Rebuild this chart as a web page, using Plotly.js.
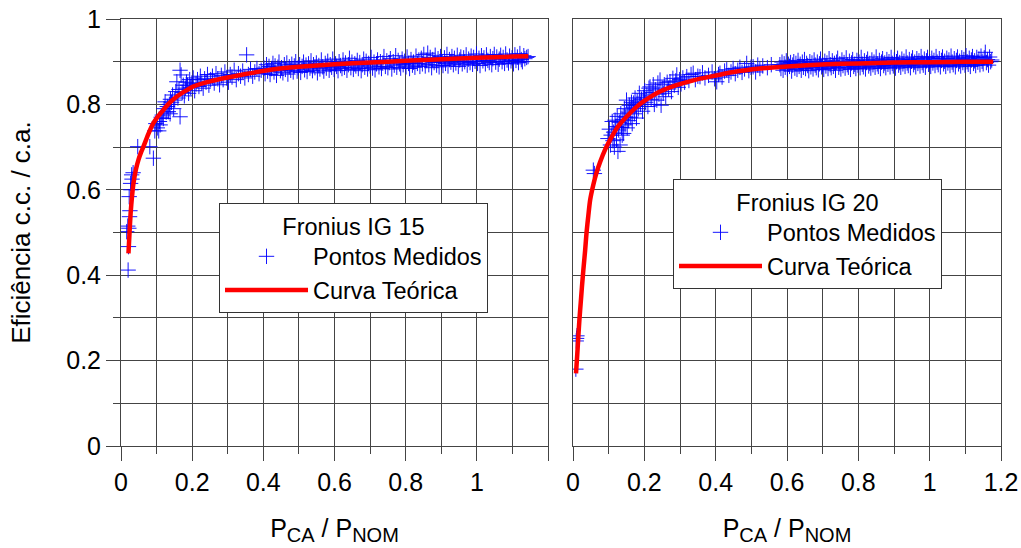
<!DOCTYPE html>
<html><head><meta charset="utf-8">
<script src="https://cdn.plot.ly/plotly-3.0.1.min.js"></script>
<style>html,body{margin:0;padding:0;background:#fff}#chart{width:1021px;height:548px}</style>
</head><body><div id="chart"></div>
<script>
// ---------- DATA ----------
const ig15_low = [[0.020,0.412],[0.021,0.467],[0.016,0.502],[0.019,0.515],[0.022,0.510],[0.024,0.537],[0.025,0.551],[0.023,0.584],[0.027,0.615],[0.028,0.600],[0.030,0.635],[0.031,0.625],[0.034,0.640],[0.047,0.701],[0.081,0.701],[0.091,0.674],[0.095,0.738],[0.098,0.755],[0.102,0.745],[0.106,0.738],[0.108,0.760],[0.110,0.752],[0.113,0.770],[0.116,0.775],[0.119,0.767],[0.121,0.790],[0.124,0.806],[0.127,0.782],[0.130,0.795],[0.133,0.783],[0.136,0.800],[0.138,0.778],[0.139,0.812],[0.142,0.805],[0.145,0.822],[0.148,0.790],[0.151,0.810],[0.154,0.830],[0.157,0.853],[0.160,0.815],[0.163,0.835],[0.166,0.771],[0.166,0.880],[0.169,0.869],[0.172,0.828],[0.175,0.845],[0.178,0.820],[0.181,0.838],[0.184,0.852],[0.187,0.845],[0.190,0.826],[0.193,0.858],[0.196,0.840],[0.199,0.850],[0.203,0.862],[0.207,0.832],[0.211,0.848],[0.215,0.858],[0.219,0.842],[0.223,0.866],[0.227,0.850],[0.231,0.838],[0.235,0.860],[0.239,0.852],[0.243,0.870],[0.247,0.845],[0.252,0.858],[0.257,0.866],[0.262,0.850],[0.267,0.872],[0.272,0.860],[0.277,0.846],[0.282,0.868],[0.287,0.858],[0.292,0.876],[0.297,0.862],[0.302,0.852],[0.307,0.870],[0.312,0.864],[0.318,0.880],[0.324,0.858],[0.330,0.872],[0.336,0.866],[0.342,0.878],[0.348,0.862],[0.353,0.916],[0.358,0.870],[0.364,0.882],[0.370,0.866],[0.376,0.876],[0.382,0.884],[0.388,0.872],[0.394,0.880]];
const ig15_high = [[0.402,0.885],[0.405,0.872],[0.409,0.893],[0.412,0.878],[0.416,0.889],[0.419,0.870],[0.423,0.884],[0.427,0.896],[0.430,0.876],[0.433,0.890],[0.437,0.868],[0.441,0.887],[0.444,0.899],[0.448,0.879],[0.451,0.886],[0.455,0.874],[0.459,0.893],[0.462,0.882],[0.466,0.897],[0.469,0.871],[0.473,0.888],[0.477,0.880],[0.480,0.894],[0.484,0.876],[0.487,0.890],[0.491,0.900],[0.495,0.878],[0.498,0.886],[0.502,0.893],[0.505,0.875],[0.509,0.889],[0.513,0.899],[0.516,0.881],[0.520,0.892],[0.523,0.877],[0.527,0.895],[0.531,0.885],[0.534,0.902],[0.538,0.879],[0.541,0.893],[0.545,0.886],[0.549,0.897],[0.552,0.874],[0.556,0.891],[0.559,0.883],[0.563,0.904],[0.567,0.888],[0.570,0.878],[0.574,0.896],[0.577,0.885],[0.581,0.901],[0.585,0.880],[0.588,0.893],[0.592,0.887],[0.595,0.906],[0.599,0.882],[0.603,0.895],[0.606,0.889],[0.610,0.879],[0.613,0.900],[0.617,0.891],[0.621,0.884],[0.624,0.904],[0.628,0.887],[0.631,0.897],[0.635,0.880],[0.639,0.893],[0.642,0.908],[0.646,0.886],[0.649,0.899],[0.653,0.882],[0.657,0.895],[0.660,0.890],[0.664,0.903],[0.667,0.884],[0.671,0.898],[0.675,0.879],[0.678,0.893],[0.682,0.906],[0.685,0.887],[0.689,0.901],[0.693,0.883],[0.696,0.896],[0.700,0.890],[0.703,0.910],[0.707,0.885],[0.711,0.899],[0.714,0.881],[0.718,0.895],[0.721,0.904],[0.725,0.888],[0.729,0.900],[0.732,0.884],[0.736,0.897],[0.739,0.912],[0.743,0.889],[0.747,0.902],[0.750,0.886],[0.754,0.898],[0.757,0.907],[0.761,0.883],[0.765,0.900],[0.768,0.892],[0.772,0.914],[0.775,0.887],[0.779,0.903],[0.783,0.895],[0.786,0.885],[0.790,0.906],[0.793,0.893],[0.797,0.901],[0.801,0.888],[0.804,0.911],[0.808,0.896],[0.811,0.884],[0.815,0.905],[0.819,0.892],[0.822,0.899],[0.826,0.887],[0.829,0.913],[0.833,0.896],[0.837,0.904],[0.840,0.889],[0.844,0.908],[0.847,0.895],[0.851,0.917],[0.855,0.890],[0.858,0.903],[0.862,0.920],[0.865,0.893],[0.869,0.910],[0.873,0.886],[0.876,0.905],[0.880,0.898],[0.883,0.915],[0.887,0.892],[0.891,0.907],[0.894,0.888],[0.898,0.912],[0.901,0.899],[0.905,0.891],[0.909,0.909],[0.912,0.896],[0.916,0.917],[0.919,0.890],[0.923,0.905],[0.927,0.899],[0.930,0.912],[0.934,0.893],[0.937,0.908],[0.941,0.897],[0.945,0.915],[0.948,0.889],[0.952,0.904],[0.955,0.911],[0.959,0.895],[0.963,0.909],[0.966,0.900],[0.970,0.916],[0.973,0.892],[0.977,0.906],[0.981,0.898],[0.984,0.913],[0.988,0.894],[0.991,0.910],[0.995,0.901],[0.999,0.918],[1.002,0.896],[1.006,0.908],[1.009,0.891],[1.013,0.914],[1.017,0.902],[1.020,0.909],[1.024,0.895],[1.027,0.916],[1.031,0.903],[1.035,0.898],[1.038,0.912],[1.042,0.893],[1.045,0.907],[1.049,0.917],[1.053,0.899],[1.056,0.911],[1.060,0.894],[1.063,0.906],[1.067,0.915],[1.071,0.900],[1.074,0.910],[1.078,0.896],[1.081,0.918],[1.085,0.904],[1.089,0.897],[1.092,0.913],[1.096,0.902],[1.099,0.909],[1.103,0.895],[1.107,0.916],[1.110,0.903],[1.114,0.911],[1.117,0.898],[1.121,0.919],[1.125,0.905],[1.128,0.900],[1.132,0.914],[1.135,0.907],[1.140,0.910],[1.144,0.912]];
const ig15_curve_x = [0.021,0.024,0.027,0.031,0.035,0.042,0.049,0.056,0.063,0.077,0.091,0.105,0.119,0.137,0.156,0.180,0.203,0.25,0.30,0.35,0.42,0.5,0.6,0.7,0.8,0.9,1.0,1.1,1.145];
const ig15_curve_y = [0.451,0.500,0.545,0.585,0.615,0.648,0.670,0.687,0.701,0.731,0.756,0.773,0.787,0.804,0.818,0.831,0.842,0.854,0.863,0.871,0.881,0.888,0.894,0.898,0.902,0.906,0.909,0.912,0.913];

const ig20_low = [[0.008,0.180],[0.009,0.246],[0.010,0.252],[0.011,0.258],[0.057,0.646],[0.060,0.638],[0.098,0.720],[0.102,0.742],[0.105,0.705],[0.107,0.728],[0.110,0.760],[0.112,0.715],[0.114,0.735],[0.116,0.700],[0.118,0.763],[0.120,0.748],[0.122,0.717],[0.124,0.772],[0.126,0.690],[0.128,0.740],[0.130,0.758],[0.132,0.705],[0.134,0.778],[0.136,0.746],[0.138,0.728],[0.140,0.765],[0.142,0.732],[0.144,0.790],[0.146,0.752],[0.148,0.770],[0.150,0.810],[0.152,0.745],[0.154,0.782],[0.156,0.762],[0.158,0.798],[0.160,0.787],[0.162,0.770],[0.164,0.805],[0.166,0.755],[0.168,0.792],[0.170,0.803],[0.172,0.778],[0.174,0.815],[0.176,0.797],[0.178,0.768],[0.180,0.808],[0.183,0.790],[0.186,0.826],[0.189,0.800],[0.192,0.812],[0.195,0.784],[0.198,0.817],[0.201,0.832],[0.204,0.805],[0.207,0.822],[0.210,0.795],[0.213,0.838],[0.216,0.841],[0.219,0.812],[0.222,0.828],[0.225,0.846],[0.228,0.800],[0.231,0.834],[0.235,0.810],[0.238,0.850],[0.241,0.824],[0.244,0.857],[0.247,0.798],[0.250,0.838],[0.253,0.826],[0.256,0.846],[0.260,0.818],[0.264,0.852],[0.268,0.836],[0.272,0.853],[0.276,0.830],[0.280,0.861],[0.284,0.845],[0.288,0.855],[0.291,0.869],[0.295,0.840],[0.299,0.858],[0.303,0.848],[0.308,0.862],[0.313,0.852],[0.319,0.865],[0.325,0.856],[0.331,0.870],[0.337,0.873],[0.343,0.858],[0.350,0.866],[0.356,0.865],[0.363,0.874],[0.370,0.862],[0.380,0.868],[0.390,0.876],[0.397,0.860],[0.403,0.853],[0.408,0.870],[0.412,0.873],[0.418,0.864],[0.425,0.878],[0.431,0.881],[0.437,0.868],[0.443,0.876],[0.449,0.884],[0.455,0.872],[0.462,0.880],[0.468,0.887],[0.474,0.875],[0.481,0.883],[0.487,0.896],[0.493,0.879],[0.499,0.887],[0.505,0.888],[0.512,0.876],[0.518,0.892],[0.524,0.884],[0.532,0.890],[0.545,0.886],[0.556,0.893]];
const ig20_high = [[0.580,0.893],[0.583,0.884],[0.586,0.899],[0.589,0.880],[0.592,0.895],[0.595,0.887],[0.598,0.902],[0.601,0.883],[0.604,0.894],[0.607,0.889],[0.610,0.898],[0.613,0.878],[0.616,0.892],[0.619,0.900],[0.622,0.885],[0.625,0.896],[0.628,0.882],[0.631,0.903],[0.634,0.889],[0.637,0.894],[0.640,0.880],[0.643,0.899],[0.646,0.887],[0.649,0.905],[0.652,0.884],[0.655,0.896],[0.658,0.891],[0.661,0.879],[0.664,0.900],[0.667,0.888],[0.670,0.897],[0.673,0.883],[0.676,0.904],[0.679,0.892],[0.682,0.886],[0.685,0.899],[0.688,0.881],[0.691,0.895],[0.694,0.906],[0.697,0.888],[0.700,0.893],[0.703,0.882],[0.706,0.901],[0.709,0.890],[0.712,0.897],[0.715,0.884],[0.718,0.907],[0.721,0.893],[0.724,0.886],[0.727,0.902],[0.730,0.889],[0.733,0.896],[0.736,0.880],[0.739,0.899],[0.742,0.908],[0.745,0.887],[0.748,0.895],[0.751,0.883],[0.754,0.904],[0.757,0.891],[0.760,0.898],[0.763,0.885],[0.766,0.909],[0.769,0.893],[0.772,0.887],[0.775,0.901],[0.778,0.882],[0.781,0.897],[0.784,0.905],[0.787,0.889],[0.790,0.894],[0.793,0.884],[0.796,0.903],[0.799,0.892],[0.802,0.899],[0.805,0.886],[0.808,0.910],[0.811,0.894],[0.814,0.888],[0.817,0.902],[0.820,0.883],[0.823,0.898],[0.826,0.906],[0.829,0.890],[0.832,0.896],[0.835,0.885],[0.838,0.904],[0.841,0.893],[0.844,0.899],[0.847,0.887],[0.850,0.911],[0.853,0.895],[0.856,0.889],[0.859,0.903],[0.862,0.884],[0.865,0.899],[0.868,0.907],[0.871,0.891],[0.874,0.897],[0.877,0.886],[0.880,0.905],[0.883,0.894],[0.886,0.900],[0.889,0.888],[0.892,0.910],[0.895,0.896],[0.898,0.890],[0.901,0.904],[0.904,0.885],[0.907,0.900],[0.910,0.908],[0.913,0.892],[0.916,0.898],[0.919,0.887],[0.922,0.906],[0.925,0.895],[0.928,0.901],[0.931,0.889],[0.934,0.911],[0.937,0.897],[0.940,0.891],[0.943,0.905],[0.946,0.886],[0.949,0.901],[0.952,0.909],[0.955,0.893],[0.958,0.899],[0.961,0.888],[0.964,0.907],[0.967,0.896],[0.970,0.902],[0.973,0.890],[0.976,0.912],[0.979,0.898],[0.982,0.892],[0.985,0.906],[0.988,0.887],[0.991,0.902],[0.994,0.910],[0.997,0.894],[1.000,0.900],[1.003,0.889],[1.006,0.908],[1.009,0.897],[1.012,0.903],[1.015,0.891],[1.018,0.912],[1.021,0.899],[1.024,0.893],[1.027,0.907],[1.030,0.888],[1.033,0.903],[1.036,0.911],[1.039,0.895],[1.042,0.901],[1.045,0.889],[1.048,0.908],[1.051,0.897],[1.054,0.904],[1.057,0.891],[1.060,0.913],[1.063,0.899],[1.066,0.893],[1.069,0.907],[1.072,0.888],[1.075,0.903],[1.078,0.911],[1.081,0.895],[1.084,0.901],[1.087,0.890],[1.090,0.909],[1.093,0.898],[1.096,0.905],[1.099,0.892],[1.102,0.914],[1.105,0.900],[1.108,0.894],[1.111,0.908],[1.114,0.889],[1.117,0.904],[1.120,0.912],[1.123,0.896],[1.126,0.902],[1.129,0.891],[1.132,0.910],[1.135,0.899],[1.138,0.906],[1.141,0.893],[1.144,0.913],[1.147,0.901],[1.150,0.895],[1.153,0.909],[1.156,0.922],[1.159,0.898],[1.162,0.905],[1.165,0.892],[1.168,0.911],[1.171,0.900],[1.174,0.904]];
const ig20_curve_x = [0.0084,0.012,0.015,0.018,0.0215,0.025,0.029,0.034,0.038,0.043,0.048,0.057,0.066,0.076,0.090,0.104,0.125,0.150,0.175,0.200,0.244,0.290,0.340,0.384,0.45,0.524,0.6,0.711,0.8,0.898,1.0,1.1,1.178];
const ig20_curve_y = [0.170,0.215,0.256,0.296,0.334,0.372,0.412,0.458,0.500,0.540,0.576,0.612,0.640,0.665,0.694,0.717,0.747,0.771,0.792,0.808,0.830,0.845,0.857,0.865,0.876,0.884,0.889,0.894,0.896,0.898,0.899,0.900,0.900];

const series_names = ['Pontos Medidos', 'Curva Teórica'];
const legend_titles = ['Fronius IG 15', 'Fronius IG 20'];
const x_major = [0, 0.2, 0.4, 0.6, 0.8, 1.0, 1.2];
const x_labels_left = ['0', '0.2', '0.4', '0.6', '0.8', '1', ''];
const x_labels_right = ['0', '0.2', '0.4', '0.6', '0.8', '1', '1.2'];
const x_minor = [0.1, 0.3, 0.5, 0.7, 0.9, 1.1];
const y_major = [0, 0.2, 0.4, 0.6, 0.8, 1.0];
const y_labels = ['0', '0.2', '0.4', '0.6', '0.8', '1'];
const y_minor = [0.1, 0.3, 0.5, 0.7, 0.9];
const x_title = 'P<sub><span style="font-size:20px">CA</span></sub> / P<sub><span style="font-size:20px">NOM</span></sub>';
const y_title = 'Eficiência c.c. / c.a.';

// ---------- CHART ----------
const W = 1021, H = 548;
const FONT = '"Liberation Sans", Arial, sans-serif';
const GC = '#444';
const FS_TICK = 25, FS_LEG = 23.5;

const ig15_pts = ig15_low.concat(ig15_high);
const ig20_pts = ig20_low.concat(ig20_high);

const markerStyle = {symbol: 'cross-thin', size: 11, color: 'rgba(0,0,255,0.92)', line: {color: 'rgba(0,0,255,0.92)', width: 1}};
const lineStyle = {color: '#ff0000', width: 4.5, shape: 'spline', smoothing: 0.6};

const traces = [
  {x: ig15_pts.map(p => p[0]), y: ig15_pts.map(p => p[1]), xaxis: 'x', yaxis: 'y', mode: 'markers', type: 'scatter', name: series_names[0], marker: markerStyle, legend: 'legend'},
  {x: ig15_curve_x, y: ig15_curve_y, xaxis: 'x', yaxis: 'y', mode: 'lines', type: 'scatter', name: series_names[1], line: lineStyle, legend: 'legend'},
  {x: ig20_pts.map(p => p[0]), y: ig20_pts.map(p => p[1]), xaxis: 'x2', yaxis: 'y2', mode: 'markers', type: 'scatter', name: series_names[0], marker: markerStyle, legend: 'legend2'},
  {x: ig20_curve_x, y: ig20_curve_y, xaxis: 'x2', yaxis: 'y2', mode: 'lines', type: 'scatter', name: series_names[1], line: lineStyle, legend: 'legend2'}
];

function xAxis(domain, labels, anchor) {
  return {
    domain: domain, anchor: anchor, range: [0, 1.2],
    tickmode: 'array', tickvals: x_major, ticktext: labels,
    ticks: 'outside', ticklen: 14, tickwidth: 1, tickcolor: GC,
    showgrid: true, gridcolor: GC, gridwidth: 1,
    minor: {tickmode: 'array', tickvals: x_minor, ticks: 'outside', ticklen: 7, tickwidth: 1, tickcolor: GC, showgrid: true, gridcolor: GC, gridwidth: 1},
    showline: true, mirror: true, linecolor: GC, linewidth: 1, zeroline: false,
    tickfont: {family: FONT, size: FS_TICK, color: '#000'},
    title: {text: x_title, font: {family: FONT, size: 25, color: '#000'}, standoff: 24},
    fixedrange: true
  };
}
function yAxis(domain, anchor, showLabels) {
  return {
    domain: domain, anchor: anchor, range: [0, 1],
    tickmode: 'array', tickvals: y_major, ticktext: y_labels,
    ticks: showLabels ? 'outside' : '', ticklen: 14, tickwidth: 1, tickcolor: GC,
    showticklabels: showLabels,
    showgrid: true, gridcolor: GC, gridwidth: 1,
    minor: {tickmode: 'array', tickvals: y_minor, ticks: showLabels ? 'outside' : '', ticklen: 7, tickwidth: 1, tickcolor: GC, showgrid: true, gridcolor: GC, gridwidth: 1},
    showline: true, mirror: true, linecolor: GC, linewidth: 1, zeroline: false,
    tickfont: {family: FONT, size: FS_TICK, color: '#000'},
    title: showLabels ? {text: y_title, font: {family: FONT, size: 26, color: '#000'}, standoff: 28} : {text: ''},
    fixedrange: true
  };
}
function legendBox(x, y, title) {
  return {
    x: x, y: y, xanchor: 'left', yanchor: 'top', xref: 'paper', yref: 'paper',
    bgcolor: '#ffffff', bordercolor: '#333', borderwidth: 1,
    font: {family: FONT, size: FS_LEG, color: '#000'},
    title: {text: title, side: 'top center', font: {family: FONT, size: FS_LEG, color: '#000'}},
    itemwidth: 83, traceorder: 'normal', tracegroupgap: 0
  };
}

const yDom = [1 - 446 / H, 1 - 19 / H];
const layout = {
  width: W, height: H,
  margin: {l: 0, r: 0, t: 0, b: 0},
  paper_bgcolor: '#ffffff', plot_bgcolor: '#ffffff',
  font: {family: FONT, size: FS_TICK, color: '#000'},
  showlegend: true,
  xaxis: xAxis([121 / W, 548 / W], x_labels_left, 'y'),
  yaxis: yAxis(yDom, 'x', true),
  xaxis2: xAxis([573 / W, 1001 / W], x_labels_right, 'y2'),
  yaxis2: yAxis(yDom, 'x2', false),
  legend: legendBox(219 / W, 1 - 203 / H, legend_titles[0]),
  legend2: legendBox(673 / W, 1 - 179 / H, legend_titles[1])
};

Plotly.newPlot('chart', traces, layout, {displayModeBar: false, staticPlot: true});
</script>
</body></html>
